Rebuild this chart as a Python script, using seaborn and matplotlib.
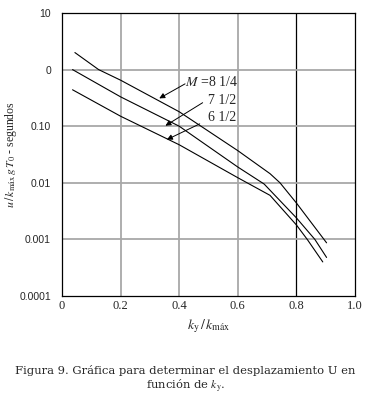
import numpy as np
import pandas as pd
import matplotlib
matplotlib.use("Agg")
import matplotlib.pyplot as plt
import seaborn as sns

# curves (x = ky/kmax, y = u / (kmax g T0) in seconds)
x_m825 = [0.044, 0.125, 0.2, 0.4, 0.6, 0.71, 0.744, 0.8, 0.903]
y_m825 = [2.0, 1.0, 0.65, 0.18, 0.037, 0.0145, 0.01, 0.0044, 0.00087]

x_m75 = [0.036, 0.2, 0.4, 0.6, 0.69, 0.8, 0.863, 0.903]
y_m75 = [1.0, 0.33, 0.1, 0.019, 0.0095, 0.0024, 0.001, 0.00048]

x_m65 = [0.036, 0.2, 0.4, 0.6, 0.71, 0.8, 0.837, 0.89]
y_m65 = [0.44, 0.15, 0.047, 0.0123, 0.006, 0.0018, 0.001, 0.0004]

y_ticks = [1e-4, 1e-3, 1e-2, 1e-1, 1, 10]
y_tick_labels = ["0.0001", "0.001", "0.01", "0.10", "0", "10"]
x_ticks = [0, 0.2, 0.4, 0.6, 0.8, 1.0]
x_tick_labels = ["0", "0.2", "0.4", "0.6", "0.8", "1.0"]

df = pd.concat([
    pd.DataFrame({"x": x_m825, "y": y_m825, "M": "8 1/4"}),
    pd.DataFrame({"x": x_m75, "y": y_m75, "M": "7 1/2"}),
    pd.DataFrame({"x": x_m65, "y": y_m65, "M": "6 1/2"}),
])

sns.set_style("white")
plt.rcParams["mathtext.fontset"] = "stix"

fig = plt.figure(figsize=(3.71, 4.07), dpi=100)
ax = fig.add_axes([62 / 371, 1 - 296 / 407, 293 / 371, 283 / 407])

ax.set_yscale("log")
ax.set_xlim(0, 1.0)
ax.set_ylim(1e-4, 10)

# grid
for xv in [0.2, 0.4, 0.6]:
    ax.axvline(xv, color="#a8a8a8", lw=1.3, zorder=1)
ax.axvline(0.8, color="black", lw=0.9, zorder=1)
for yv in [1e-3, 1e-2, 1e-1, 1]:
    ax.axhline(yv, color="#a8a8a8", lw=1.3, zorder=1)

sns.lineplot(data=df, x="x", y="y", hue="M", sort=False, estimator=None,
             palette={"8 1/4": "black", "7 1/2": "black", "6 1/2": "black"},
             lw=0.8, legend=False, ax=ax, zorder=3)

ax.set_yticks(y_ticks)
ax.set_yticklabels(y_tick_labels, family="Liberation Sans", fontsize=7.5)
ax.yaxis.set_minor_locator(matplotlib.ticker.NullLocator())
ax.set_xticks(x_ticks)
ax.set_xticklabels(x_tick_labels, family="Liberation Serif", fontsize=9)
ax.tick_params(axis="both", length=0)
ax.tick_params(axis="y", pad=8)
ax.tick_params(axis="x", pad=3)

for s in ax.spines.values():
    s.set_color("black")
    s.set_linewidth(0.9)

ax.set_xlabel(r"$k_\mathrm{y}\,/\,k_\mathrm{máx}$", fontsize=10, labelpad=4)
ax.set_ylabel(r"$u\,/\,k_{\mathrm{máx}}\,g\,T_0$ - segundos", fontsize=8.5,
              family="Liberation Serif")
ax.yaxis.set_label_coords(-0.148, 0.5)

arrow = dict(arrowstyle="-|>", color="black", lw=0.7, mutation_scale=8,
             shrinkA=0, shrinkB=0)
ax.annotate("", xy=(0.332, 0.31), xytext=(0.42, 0.56), arrowprops=arrow)
ax.annotate("", xy=(0.353, 0.102), xytext=(0.48, 0.26), arrowprops=arrow)
ax.annotate("", xy=(0.358, 0.058), xytext=(0.47, 0.11), arrowprops=arrow)
ax.text(0.42, 0.60, r"$M$ =8 1/4", fontsize=10, family="Liberation Serif",
        va="center", ha="left")
ax.text(0.498, 0.29, "7 1/2", fontsize=10, family="Liberation Serif",
        va="center", ha="left")
ax.text(0.498, 0.14, "6 1/2", fontsize=10, family="Liberation Serif",
        va="center", ha="left")

fig.text(0.5, 1 - 370 / 407, "Figura 9. Gráfica para determinar el desplazamiento U en",
         ha="center", va="center", family="DejaVu Serif", fontsize=8.25)
fig.text(0.5, 1 - 386 / 407, r"función de $k_\mathrm{y}$.",
         ha="center", va="center", family="DejaVu Serif", fontsize=8.25)

fig.savefig("out.png", dpi=100)
